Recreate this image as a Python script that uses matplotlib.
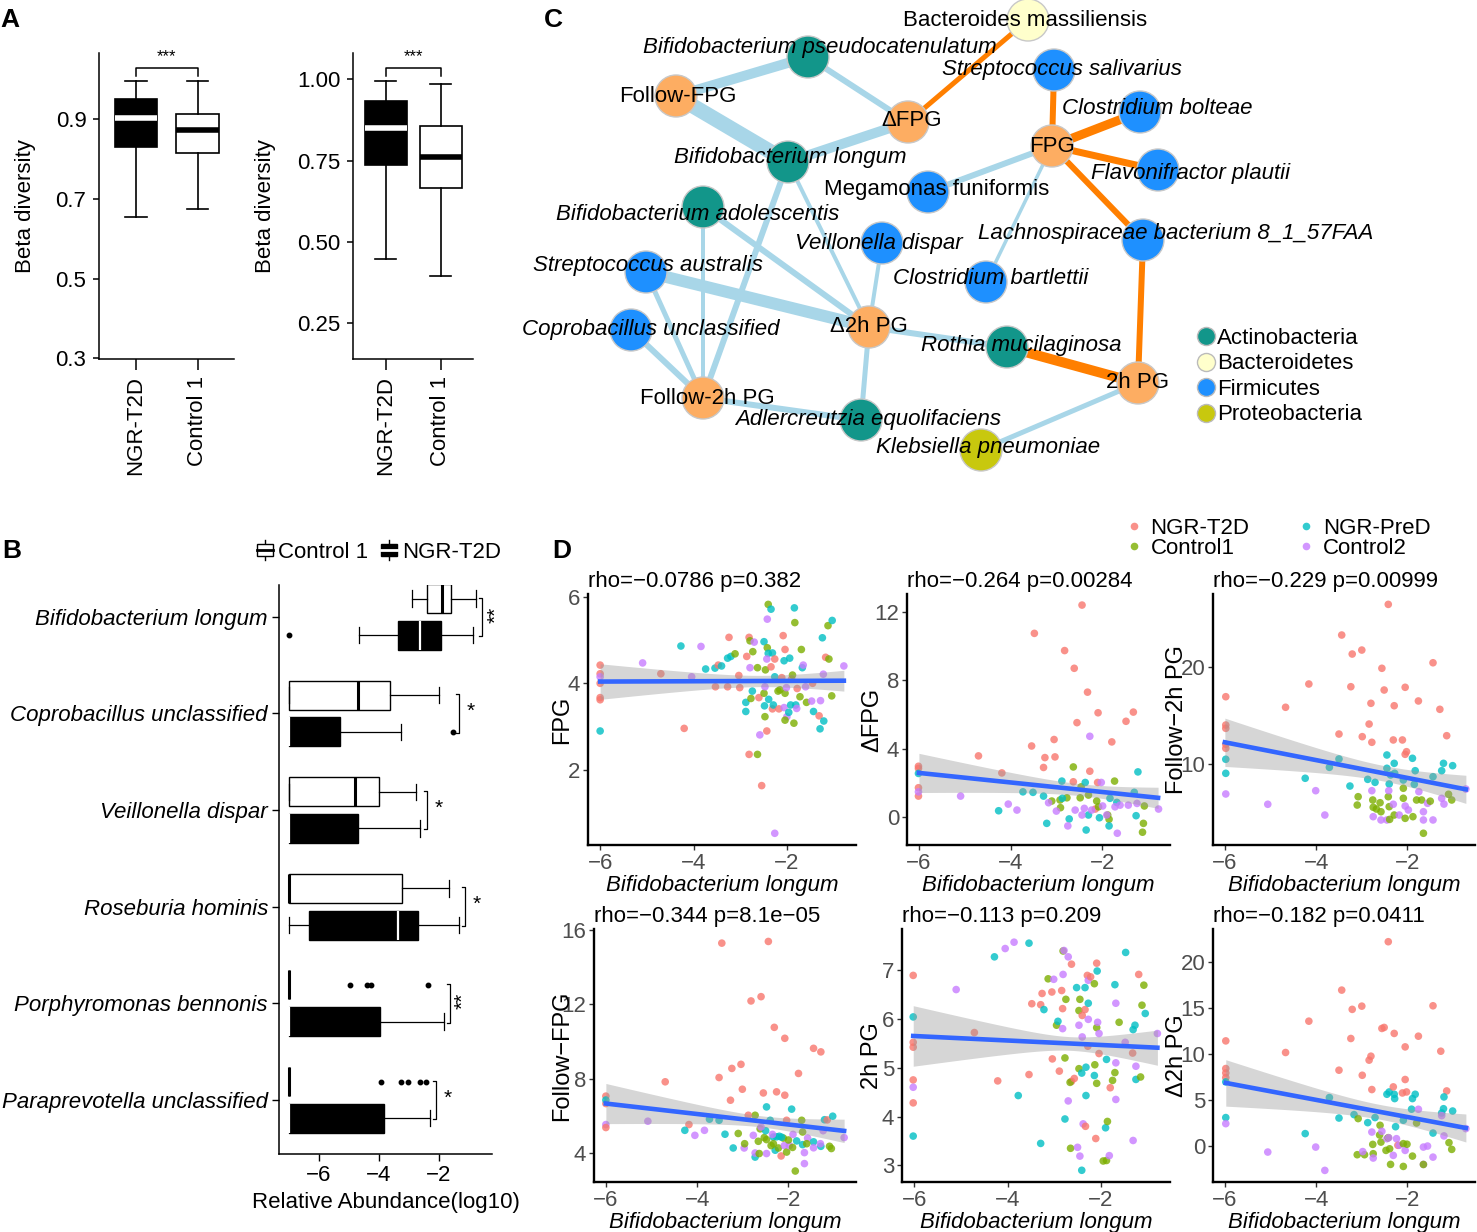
import numpy as np
import matplotlib
matplotlib.use("Agg")
import matplotlib.pyplot as plt
from matplotlib.patches import Circle, Rectangle
from matplotlib.lines import Line2D
from matplotlib.legend_handler import HandlerBase

plt.rcParams['font.family'] = ['Liberation Sans', 'DejaVu Sans']

W, H = 1477, 1232

# ---------------- panel A: beta diversity boxplots (lo, q1, med, q3, hi)
A_GROUPS = ['NGR-T2D', 'Control 1']
a1_t2d = [0.655, 0.831, 0.903, 0.951, 0.997]
a1_ctl = [0.675, 0.816, 0.874, 0.914, 0.997]
a2_t2d = [0.448, 0.737, 0.849, 0.933, 0.995]
a2_ctl = [0.394, 0.667, 0.762, 0.857, 0.985]

# ---------------- panel B: relative abundance boxplots (lo, q1, med, q3, hi)
B_TAXA = ['Bifidobacterium longum', 'Coprobacillus unclassified', 'Veillonella dispar',
          'Roseburia hominis', 'Porphyromonas bennonis', 'Paraprevotella unclassified']
B_CTRL = [(-2.90, -2.40, -1.87, -1.58, -0.74),
          (-7.0, -7.0, -4.71, -3.63, -2.0),
          (-7.0, -7.0, -4.81, -3.99, -2.76),
          (-7.0, -7.0, -7.0, -3.23, -1.65),
          (-7.0, -7.0, -7.0, -7.0, -7.0),
          (-7.0, -7.0, -7.0, -7.0, -7.0)]
B_CTRL_OUT = [[], [], [], [], [-4.97, -4.39, -4.25, -2.35], [-3.92, -3.25, -3.02, -2.61, -2.41]]
B_T2D = [(-4.65, -3.37, -2.63, -1.93, -0.85),
         (-7.0, -7.0, -7.0, -5.30, -3.25),
         (-7.0, -7.0, -7.0, -4.69, -2.61),
         (-7.0, -6.35, -3.35, -2.70, -1.32),
         (-7.0, -7.0, -7.0, -3.95, -1.81),
         (-7.0, -7.0, -7.0, -3.81, -2.29)]
B_T2D_OUT = [[-6.99], [-1.50], [], [], [], []]
B_SIG = ['**', '*', '*', '*', '**', '*']
B_BRACKET_X = [-0.53, -1.32, -2.40, -1.12, -1.61, -2.08]

# ---------------- panel C: network
# key, label, x, y, phylum, label x, label y, italic
NODES = [
    ('bmas', 'Bacteroides massiliensis', 1028, 20, 'Bacteroidetes', 1025, 20, False),
    ('bpse', 'Bifidobacterium pseudocatenulatum', 808, 57, 'Actinobacteria', 820, 48, True),
    ('ffpg', 'Follow-FPG', 676, 96, 'clin', 678, 96, False),
    ('dfpg', '\u0394FPG', 908, 122, 'clin', 912, 121, False),
    ('ssal', 'Streptococcus salivarius', 1054, 70, 'Firmicutes', 1062, 70, True),
    ('cbol', 'Clostridium bolteae', 1140, 112, 'Firmicutes', 1157, 108, True),
    ('fpg', 'FPG', 1052, 146, 'clin', 1052, 146, False),
    ('fpla', 'Flavonifractor plautii', 1158, 170, 'Firmicutes', 1191, 173, True),
    ('blon', 'Bifidobacterium longum', 788, 162, 'Actinobacteria', 790, 158, True),
    ('mfun', 'Megamonas funiformis', 928, 192, 'Firmicutes', 937, 190, False),
    ('bado', 'Bifidobacterium adolescentis', 703, 207, 'Actinobacteria', 698, 214, True),
    ('vdis', 'Veillonella dispar', 882, 243, 'Firmicutes', 879, 243, True),
    ('lach', 'Lachnospiraceae bacterium 8_1_57FAA', 1143, 240, 'Firmicutes', 1176, 233, True),
    ('saus', 'Streptococcus australis', 646, 272, 'Firmicutes', 648, 265, True),
    ('cbar', 'Clostridium bartlettii', 986, 282, 'Firmicutes', 991, 279, True),
    ('copr', 'Coprobacillus unclassified', 631, 330, 'Firmicutes', 651, 329, True),
    ('d2h', '\u03942h PG', 869, 327, 'clin', 869, 326, False),
    ('rmuc', 'Rothia mucilaginosa', 1007, 347, 'Actinobacteria', 1021, 345, True),
    ('pg2h', '2h PG', 1138, 383, 'clin', 1138, 382, False),
    ('f2h', 'Follow-2h PG', 703, 398, 'clin', 707, 398, False),
    ('aequ', 'Adlercreutzia equolifaciens', 861, 420, 'Actinobacteria', 868, 420, True),
    ('kpne', 'Klebsiella pneumoniae', 981, 450, 'Proteobacteria', 988, 448, True),
]
# node a, node b, weight (px), sign
EDGES = [
    ('ffpg', 'bpse', 10, -1), ('ffpg', 'blon', 15, -1), ('bpse', 'dfpg', 6, -1),
    ('blon', 'dfpg', 10, -1), ('fpg', 'mfun', 6, -1), ('fpg', 'cbar', 3.5, -1),
    ('blon', 'f2h', 6, -1), ('blon', 'd2h', 4, -1), ('bado', 'f2h', 4, -1),
    ('bado', 'd2h', 6, -1), ('vdis', 'd2h', 4, -1), ('saus', 'd2h', 12, -1),
    ('saus', 'f2h', 5, -1), ('copr', 'f2h', 6, -1), ('d2h', 'rmuc', 6, -1),
    ('d2h', 'aequ', 5, -1), ('f2h', 'aequ', 6, -1), ('pg2h', 'kpne', 5, -1),
    ('dfpg', 'bmas', 5, 1), ('fpg', 'ssal', 6, 1), ('fpg', 'cbol', 9, 1),
    ('fpg', 'fpla', 7, 1), ('fpg', 'lach', 6, 1), ('lach', 'pg2h', 6, 1),
    ('rmuc', 'pg2h', 10, 1),
]
PHYLA = ['Actinobacteria', 'Bacteroidetes', 'Firmicutes', 'Proteobacteria']
NODE_COL = {'Actinobacteria': '#12968A', 'Bacteroidetes': '#FFFFCC', 'Firmicutes': '#1E90FF',
            'Proteobacteria': '#C8C80E', 'clin': '#FDAD62'}

# ---------------- panel D: scatter points (group, B. longum, clinical value)
GROUPS = ['NGR-T2D', 'Control1', 'NGR-PreD', 'Control2']
GCOL = {'r': '#F8766D', 'g': '#7CAE00', 'c': '#00BFC4', 'p': '#C77CFF'}

fpg_pts = [
    ('r', -6.0, 4.42), ('r', -6.0, 4.22), ('r', -6.0, 4.0), ('p', -6.0, 4.15), ('r', -6.0, 3.67),
    ('r', -6.0, 3.62), ('c', -6.0, 2.9), ('p', -5.09, 4.47), ('r', -4.70, 4.22), ('c', -4.27, 4.86),
    ('r', -4.20, 2.96), ('p', -4.04, 4.15), ('p', -3.84, 4.85), ('c', -3.74, 4.33), ('c', -3.54, 4.35),
    ('r', -3.53, 3.92), ('r', -3.47, 4.42), ('c', -3.40, 4.40), ('r', -3.27, 3.92), ('c', -3.27, 4.58),
    ('c', -3.20, 4.62), ('r', -3.24, 5.06), ('g', -3.11, 4.68), ('r', -3.03, 4.18), ('r', -3.01, 3.90),
    ('c', -2.88, 3.56), ('c', -2.88, 3.35), ('r', -2.86, 4.62), ('r', -2.81, 5.06), ('r', -2.81, 2.36),
    ('g', -2.79, 4.98), ('p', -2.79, 4.36), ('g', -2.77, 3.65), ('c', -2.74, 3.82), ('g', -2.73, 4.73),
    ('p', -2.70, 4.95), ('g', -2.63, 4.36), ('g', -2.63, 2.36), ('r', -2.60, 3.67), ('p', -2.58, 2.81),
    ('r', -2.54, 1.64), ('g', -2.49, 3.77), ('c', -2.49, 4.96), ('p', -2.47, 3.92), ('g', -2.47, 3.23),
    ('g', -2.46, 4.31), ('g', -2.42, 4.82), ('p', -2.42, 5.48), ('g', -2.40, 5.82), ('r', -2.43, 2.90),
    ('c', -2.40, 4.69), ('p', -2.43, 4.56), ('c', -2.39, 3.63), ('c', -2.34, 5.71), ('c', -2.31, 4.70),
    ('r', -2.34, 4.38), ('c', -2.48, 3.48), ('r', -2.31, 3.41), ('c', -2.29, 3.50), ('r', -2.26, 4.56),
    ('p', -2.26, 0.54), ('c', -2.26, 4.15), ('r', -2.17, 3.41), ('g', -2.19, 3.82), ('g', -2.15, 3.85),
    ('r', -2.11, 4.13), ('r', -2.08, 5.10), ('p', -2.06, 3.44), ('g', -2.04, 3.77), ('c', -2.06, 4.52),
    ('r', -2.04, 4.78), ('p', -2.01, 3.90), ('p', -2.0, 3.23), ('g', -2.04, 3.15), ('c', -1.96, 3.33),
    ('c', -1.94, 4.58), ('c', -1.92, 3.50), ('r', -1.90, 4.10), ('g', -1.88, 4.19), ('g', -1.85, 3.08),
    ('c', -1.84, 5.74), ('g', -1.83, 5.40), ('c', -1.81, 3.50), ('p', -1.79, 3.42), ('r', -1.78, 3.88),
    ('g', -1.72, 3.69), ('g', -1.69, 4.78), ('c', -1.67, 4.36), ('p', -1.65, 4.42), ('p', -1.60, 3.92),
    ('g', -1.58, 3.56), ('p', -1.47, 3.59), ('r', -1.45, 4.0), ('c', -1.43, 3.35), ('p', -1.28, 3.60),
    ('r', -1.31, 3.25), ('c', -1.24, 5.05), ('p', -1.22, 4.21), ('c', -1.29, 2.95), ('c', -1.21, 3.13),
    ('r', -1.17, 4.60), ('g', -1.12, 5.33), ('g', -1.10, 4.56), ('c', -1.03, 5.45), ('g', -1.04, 3.71),
    ('p', -0.78, 4.40),
]
dfpg_pts = [
    ('r', -6.01, 2.96), ('r', -6.01, 2.83), ('c', -6.01, 2.54), ('r', -6.01, 1.70), ('r', -6.01, 1.21),
    ('p', -6.01, 1.46), ('r', -4.70, 3.57), ('p', -5.09, 1.21), ('r', -4.19, 2.57), ('c', -4.26, 0.35),
    ('p', -4.05, 0.74), ('p', -3.86, 0.39), ('r', -3.48, 10.76), ('r', -3.54, 4.15), ('r', -3.25, 3.47),
    ('r', -3.03, 3.51), ('r', -3.28, 2.89), ('r', -3.05, 4.53), ('r', -2.82, 9.75), ('r', -2.61, 8.71),
    ('r', -2.55, 5.52), ('r', -2.44, 12.42), ('r', -2.32, 7.31), ('r', -2.27, 2.67), ('r', -2.09, 6.10),
    ('r', -1.79, 4.39), ('r', -1.48, 5.60), ('r', -1.32, 6.14), ('r', -2.10, 2.01), ('r', -2.15, 0.45),
    ('r', -2.63, 2.05), ('p', -2.27, 4.72), ('g', -2.63, 2.92), ('g', -3.10, 0.92), ('g', -2.91, 0.53),
    ('g', -2.46, 1.75), ('g', -2.48, 1.11), ('g', -2.77, 1.11), ('g', -2.30, 1.27), ('g', -2.12, 0.92),
    ('g', -2.08, 0.58), ('g', -1.88, 0.10), ('g', -1.85, -0.15), ('g', -1.73, 2.09), ('g', -1.10, -0.39),
    ('g', -1.12, -0.91), ('g', -1.08, 0.63), ('g', -2.92, 0.98), ('c', -3.73, 1.46), ('c', -3.51, 1.43),
    ('c', -3.28, 1.21), ('c', -3.21, -0.39), ('c', -2.88, 2.09), ('c', -2.72, -0.13), ('c', -2.35, -0.78),
    ('c', -2.30, 0.10), ('c', -2.06, -0.06), ('c', -1.85, -0.54), ('c', -1.22, 2.63), ('c', -1.30, 1.43),
    ('c', -1.26, 0.06), ('c', -1.83, 1.08), ('c', -1.68, 0.84), ('c', -2.87, 1.08), ('c', -2.37, 2.01),
    ('p', -3.0, 0.33), ('p', -2.75, -0.54), ('p', -2.59, 0.39), ('p', -2.44, 0.10), ('p', -2.39, 0.49),
    ('p', -2.23, 0.39), ('p', -2.02, 2.01), ('p', -1.99, 0.63), ('p', -1.90, 0.10), ('p', -1.72, 0.58),
    ('p', -1.67, -0.97), ('p', -1.61, 0.68), ('p', -1.43, 0.68), ('p', -1.24, 0.78), ('p', -0.77, 0.45),
    ('p', -3.17, 0.82),
]
f2h_pts = [
    ('r', -5.98, 16.97), ('r', -5.98, 14.05), ('r', -5.98, 13.71), ('r', -5.98, 12.06), ('r', -5.98, 11.65),
    ('c', -5.98, 10.52), ('c', -5.98, 9.07), ('p', -5.98, 6.94), ('r', -4.67, 15.88), ('p', -5.06, 5.88),
    ('r', -4.16, 18.28), ('c', -4.24, 8.56), ('p', -4.01, 7.28), ('p', -3.81, 4.77), ('c', -3.71, 9.69),
    ('c', -3.50, 10.55), ('r', -3.50, 13.12), ('r', -3.44, 23.33), ('r', -3.24, 18.0), ('r', -3.21, 21.37),
    ('r', -3.0, 21.78), ('r', -2.99, 12.85), ('c', -3.26, 7.76), ('g', -3.08, 6.66), ('g', -3.10, 5.80),
    ('c', -2.87, 8.45), ('r', -2.84, 14.15), ('r', -2.80, 16.29), ('r', -2.78, 12.27), ('g', -2.76, 6.32),
    ('g', -2.75, 5.57), ('g', -2.68, 5.39), ('c', -2.71, 8.14), ('p', -2.78, 7.28), ('p', -2.75, 4.60),
    ('g', -2.60, 6.04), ('g', -2.58, 5.11), ('r', -2.56, 19.90), ('r', -2.51, 17.66), ('c', -2.45, 10.96),
    ('c', -2.45, 9.59), ('p', -2.58, 4.26), ('p', -2.45, 4.26), ('g', -2.42, 6.66), ('g', -2.40, 5.63),
    ('g', -2.39, 4.32), ('c', -2.40, 7.97), ('r', -2.42, 26.49), ('r', -2.29, 16.04), ('r', -2.31, 12.51),
    ('c', -2.29, 10.10), ('c', -2.28, 9.07), ('c', -2.37, 8.9), ('p', -2.41, 7.28), ('p', -2.31, 5.88),
    ('g', -2.29, 4.77), ('p', -2.18, 4.77), ('r', -2.11, 12.51), ('r', -2.05, 17.94), ('r', -2.05, 11.03),
    ('r', -2.02, 11.3), ('c', -2.09, 8.38), ('g', -2.09, 7.53), ('g', -2.05, 4.43), ('g', -2.09, 6.5),
    ('p', -2.05, 5.7), ('p', -1.98, 5.29), ('c', -1.89, 10.62), ('c', -1.83, 9.34), ('c', -1.85, 7.94),
    ('g', -1.88, 4.60), ('g', -1.80, 6.32), ('g', -1.69, 6.32), ('r', -1.76, 16.53), ('p', -1.75, 7.18),
    ('p', -1.65, 5.11), ('p', -1.65, 4.26), ('g', -1.65, 2.89), ('p', -1.56, 5.98), ('c', -1.44, 8.72),
    ('p', -1.44, 4.26), ('r', -1.44, 20.47), ('r', -1.29, 15.67), ('r', -1.14, 12.95), ('c', -1.25, 9.34),
    ('c', -1.21, 10.10), ('c', -1.01, 9.86), ('p', -1.25, 6.49), ('p', -1.2, 5.9), ('g', -1.10, 6.91),
    ('g', -1.03, 6.32), ('p', -0.72, 7.45), ('g', -1.5, 6.2),
]
ffpg_pts = [
    ('r', -6.0, 7.06), ('r', -6.0, 6.66), ('c', -6.0, 6.85), ('p', -6.0, 5.53), ('r', -6.0, 5.37),
    ('r', -4.70, 7.83), ('p', -5.08, 5.71), ('r', -4.18, 5.53), ('c', -4.27, 5.22), ('p', -4.05, 4.95),
    ('p', -3.84, 5.22), ('c', -3.73, 5.82), ('c', -3.52, 5.76), ('r', -3.52, 8.06), ('c', -3.39, 5.01),
    ('r', -3.24, 8.55), ('r', -3.46, 15.29), ('r', -3.27, 6.84), ('r', -3.04, 8.77), ('r', -3.01, 7.43),
    ('c', -3.21, 4.27), ('p', -2.97, 4.27), ('g', -3.10, 5.05), ('g', -2.96, 4.5), ('r', -2.82, 12.18),
    ('g', -2.73, 6.03), ('c', -2.73, 3.78), ('r', -2.88, 6.03), ('p', -2.77, 4.95), ('g', -2.66, 4.63),
    ('g', -2.62, 5.3), ('p', -2.73, 4.0), ('g', -2.64, 3.97), ('r', -2.60, 12.41), ('r', -2.55, 7.23),
    ('c', -2.48, 6.48), ('g', -2.53, 4.83), ('g', -2.48, 4.72), ('p', -2.48, 3.97), ('c', -2.40, 5.76),
    ('c', -2.33, 4.86), ('r', -2.44, 15.38), ('r', -2.31, 10.76), ('r', -2.26, 7.29), ('c', -2.29, 4.15),
    ('c', -2.26, 4.87), ('g', -2.22, 4.27), ('g', -2.33, 4.5), ('r', -2.08, 10.17), ('r', -2.08, 7.11),
    ('r', -2.16, 3.84), ('g', -2.11, 4.8), ('p', -2.09, 4.4), ('g', -2.04, 4.05), ('c', -1.93, 6.36),
    ('c', -1.82, 4.65), ('p', -1.98, 4.4), ('g', -1.91, 4.3), ('r', -2.04, 5.76), ('r', -1.78, 8.28),
    ('g', -1.85, 3.03), ('g', -1.71, 5.76), ('c', -1.69, 4.45), ('p', -1.65, 4.02), ('p', -1.65, 3.43),
    ('g', -1.69, 5.13), ('p', -1.58, 4.8), ('r', -1.45, 9.63), ('r', -1.29, 9.44), ('c', -1.45, 4.6),
    ('p', -1.45, 4.28), ('c', -1.29, 4.36), ('p', -1.24, 5.2), ('c', -1.21, 5.79), ('r', -1.15, 5.78),
    ('g', -1.1, 4.36), ('g', -1.06, 4.24), ('c', -1.03, 5.98), ('p', -0.78, 4.83), ('c', -2.2, 4.9),
    ('p', -2.35, 5.0), ('g', -2.0, 4.7), ('c', -2.5, 5.2), ('g', -1.6, 4.5), ('p', -1.3, 4.5),
    ('c', -2.15, 4.85), ('p', -2.6, 5.4), ('g', -2.38, 4.4), ('p', -1.9, 5.0),
]
pg2h_pts = [
    ('r', -6.02, 6.89), ('c', -6.02, 6.04), ('r', -6.02, 5.52), ('r', -6.02, 5.42), ('r', -6.02, 4.75),
    ('p', -6.02, 4.60), ('r', -6.02, 4.28), ('c', -6.02, 3.60), ('p', -5.10, 6.60), ('r', -4.71, 5.72),
    ('r', -4.21, 4.73), ('c', -4.28, 7.27), ('p', -4.05, 7.44), ('p', -3.86, 7.57), ('c', -3.77, 4.43),
    ('c', -3.54, 7.55), ('r', -3.54, 4.86), ('r', -3.48, 6.31), ('r', -3.29, 6.29), ('r', -3.26, 6.52),
    ('c', -3.22, 6.19), ('c', -3.29, 3.45), ('r', -3.05, 6.55), ('g', -3.13, 6.82), ('p', -3.01, 6.81),
    ('r', -3.04, 5.18), ('r', -2.89, 4.93), ('g', -2.95, 5.87), ('c', -2.92, 5.95), ('r', -2.84, 6.58),
    ('g', -2.81, 7.39), ('p', -2.79, 7.4), ('p', -2.70, 7.27), ('r', -2.63, 7.12), ('p', -2.81, 6.91),
    ('g', -2.75, 6.40), ('p', -2.82, 5.80), ('r', -2.82, 6.21), ('g', -2.77, 5.2), ('r', -2.63, 4.72),
    ('g', -2.66, 4.7), ('g', -2.65, 3.35), ('p', -2.70, 4.32), ('c', -2.77, 3.95), ('r', -2.57, 4.78),
    ('p', -2.50, 3.37), ('p', -2.45, 3.19), ('g', -2.47, 4.98), ('g', -2.47, 6.17), ('c', -2.52, 6.64),
    ('g', -2.45, 6.4), ('p', -2.47, 5.87), ('r', -2.40, 6.07), ('r', -2.34, 6.19), ('r', -2.29, 6.89),
    ('p', -2.40, 5.63), ('c', -2.41, 4.89), ('p', -2.38, 3.85), ('c', -2.32, 5.01), ('c', -2.34, 6.64),
    ('c', -2.32, 4.43), ('r', -2.33, 3.8), ('c', -2.41, 2.90), ('p', -2.27, 6.79), ('r', -2.22, 6.86),
    ('r', -2.28, 5.44), ('p', -2.27, 5.99), ('c', -2.27, 6.32), ('c', -2.14, 4.84), ('g', -2.14, 6.72),
    ('r', -2.09, 7.14), ('c', -2.08, 6.98), ('g', -2.13, 5.06), ('g', -2.09, 4.68), ('r', -2.11, 3.55),
    ('g', -2.09, 5.82), ('p', -2.07, 5.93), ('p', -2.04, 5.7), ('r', -2.04, 5.29), ('c', -1.88, 5.17),
    ('c', -1.90, 3.77), ('g', -1.86, 3.90), ('g', -1.95, 3.09), ('g', -1.88, 3.1), ('p', -1.82, 3.20),
    ('r', -1.80, 4.59), ('g', -1.75, 4.74), ('c', -1.70, 6.70), ('p', -1.68, 6.32), ('p', -1.68, 5.1),
    ('g', -1.70, 4.9), ('p', -1.68, 4.35), ('g', -1.61, 5.93), ('p', -1.48, 5.52), ('c', -1.47, 7.36),
    ('r', -1.32, 5.30), ('c', -1.31, 5.78), ('c', -1.27, 5.87), ('p', -1.25, 5.03), ('p', -1.31, 3.51),
    ('c', -1.25, 4.76), ('r', -1.19, 6.91), ('g', -1.12, 6.28), ('g', -1.15, 4.81), ('g', -1.08, 6.69),
    ('c', -1.05, 6.11), ('p', -0.79, 5.70),
]
d2h_pts = [
    ('r', -5.98, 11.41), ('r', -5.98, 8.41), ('r', -5.98, 7.93), ('r', -5.98, 7.43), ('c', -5.98, 6.96),
    ('c', -5.98, 3.09), ('p', -5.98, 2.43), ('r', -4.67, 10.15), ('p', -5.06, -0.65), ('r', -4.16, 13.55),
    ('c', -4.24, 1.35), ('p', -4.01, -0.11), ('p', -3.81, -2.64), ('c', -3.71, 5.26), ('c', -3.50, 3.04),
    ('r', -3.50, 8.23), ('r', -3.44, 16.92), ('r', -3.24, 11.67), ('r', -3.21, 14.83), ('r', -3.0, 15.18),
    ('r', -2.99, 7.68), ('c', -3.17, 3.41), ('g', -3.08, 2.98), ('g', -3.10, -0.94), ('c', -2.87, 2.54),
    ('r', -2.84, 9.32), ('r', -2.80, 9.75), ('r', -2.78, 6.13), ('g', -2.94, -0.94), ('p', -2.98, -0.6),
    ('g', -2.76, 0.18), ('g', -2.75, -0.83), ('p', -2.75, -1.3), ('c', -2.71, 3.09), ('p', -2.78, 1.52),
    ('g', -2.60, 2.25), ('g', -2.61, 1.2), ('g', -2.58, 0.43), ('p', -2.56, 1.6), ('p', -2.45, 0.80),
    ('c', -2.45, 5.62), ('r', -2.56, 12.76), ('r', -2.51, 12.87), ('c', -2.40, 5.87), ('g', -2.47, -0.47),
    ('g', -2.42, 0.91), ('g', -2.39, -0.3), ('c', -2.29, 5.62), ('c', -2.28, 5.15), ('r', -2.29, 12.22),
    ('r', -2.31, 6.42), ('r', -2.42, 22.17), ('p', -2.41, 0.9), ('p', -2.31, -1.01), ('g', -2.37, -1.99),
    ('p', -2.24, 0.8), ('r', -2.21, 0.08), ('p', -2.18, 0.08), ('c', -2.26, 2.1), ('g', -2.09, 0.26),
    ('g', -2.09, -2.21), ('p', -2.05, -0.47), ('r', -2.11, 5.76), ('r', -2.05, 7.22), ('r', -2.05, 10.76),
    ('r', -2.02, 5.87), ('c', -2.09, 2.8), ('g', -2.01, 0.2), ('g', -1.89, -1.09), ('c', -1.89, 5.15),
    ('c', -1.83, 5.62), ('c', -1.91, 4.0), ('r', -1.76, 11.92), ('p', -1.76, 3.99), ('g', -1.80, 2.5),
    ('p', -1.65, -0.11), ('p', -1.65, -1.99), ('g', -1.65, -2.0), ('p', -1.56, 0.0), ('p', -1.44, -1.2),
    ('c', -1.44, 1.41), ('r', -1.44, 15.22), ('r', -1.27, 10.29), ('r', -1.14, 5.98), ('c', -1.25, 3.59),
    ('c', -1.21, 4.05), ('c', -1.20, 5.33), ('c', -1.01, 3.80), ('p', -1.25, 3.3), ('p', -1.2, 1.1),
    ('g', -1.09, 0.37), ('g', -1.03, -0.36), ('p', -0.72, 1.89),
]

# fitted line + 95% band: x left, x right, y left, y right, half-width left, min, right
FITS = {
    'fpg': (-6.0, -0.78, 4.04, 4.06, 0.41, 0.13, 0.24),
    'dfpg': (-6.0, -0.78, 2.57, 1.11, 1.15, 0.35, 0.62),
    'f2h': (-6.0, -0.72, 12.27, 7.42, 2.49, 0.80, 1.45),
    'ffpg': (-6.0, -0.78, 6.66, 5.19, 1.08, 0.30, 0.63),
    'pg2h': (-6.02, -0.79, 5.65, 5.41, 0.62, 0.14, 0.36),
    'd2h': (-5.98, -0.72, 6.85, 1.96, 2.52, 0.80, 1.52),
}
STATS = {
    'fpg': 'rho=\u22120.0786 p=0.382', 'dfpg': 'rho=\u22120.264 p=0.00284',
    'f2h': 'rho=\u22120.229 p=0.00999', 'ffpg': 'rho=\u22120.344 p=8.1e\u221205',
    'pg2h': 'rho=\u22120.113 p=0.209', 'd2h': 'rho=\u22120.182 p=0.0411',
}

fig = plt.figure(figsize=(W / 100, H / 100), dpi=100)


def px_axes(l, t, r, b):
    return fig.add_axes([l / W, 1 - b / H, (r - l) / W, (b - t) / H])


def classic(ax, lw=1.1):
    for s in ('top', 'right'):
        ax.spines[s].set_visible(False)
    for s in ('left', 'bottom'):
        ax.spines[s].set_linewidth(lw)


def stat_dict(v, fliers=()):
    return dict(whislo=v[0], q1=v[1], med=v[2], q3=v[3], whishi=v[4], fliers=list(fliers))


# ================= A
def panel_a(ax, t2d, ctl, ylim, yticks, ytl, width, bracket):
    classic(ax)
    for pos, v, fc, mc in [(1, t2d, 'black', 'white'), (2, ctl, 'white', 'black')]:
        ax.bxp([stat_dict(v)], positions=[pos], widths=[width], capwidths=[width / 2],
               showfliers=False, patch_artist=True, manage_ticks=False,
               boxprops=dict(facecolor=fc, edgecolor='black', linewidth=1.2),
               medianprops=dict(color=mc, linewidth=4, solid_capstyle='butt'),
               whiskerprops=dict(color='black', linewidth=1.2),
               capprops=dict(color='black', linewidth=1.2))
    lo, hi = bracket
    ax.plot([1, 1, 2, 2], [lo, hi, hi, lo], color='black', lw=1.1)
    ax.text(1.5, hi + 0.012 * (ylim[1] - ylim[0]), '***', ha='center', va='bottom', fontsize=12)
    ax.set_xlim(0.4, 2.59)
    ax.set_ylim(*ylim)
    ax.set_yticks(yticks)
    ax.set_yticklabels(ytl, fontsize=16)
    ax.set_xticks([1, 2])
    ax.set_xticklabels(A_GROUPS, rotation=90, fontsize=16)
    ax.tick_params(axis='y', length=4, width=1.1, pad=5)
    ax.tick_params(axis='x', length=8, width=1.1, pad=4)
    ax.set_ylabel('Beta diversity', fontsize=16)


ax_a1 = px_axes(99, 53, 234, 359)
panel_a(ax_a1, a1_t2d, a1_ctl, (0.298, 1.067), [0.3, 0.5, 0.7, 0.9], ['0.3', '0.5', '0.7', '0.9'],
        0.69, (1.009, 1.030))
ax_a1.yaxis.set_label_coords((36 - 99) / 135, 0.5)
ax_a2 = px_axes(353, 53, 473, 359)
panel_a(ax_a2, a2_t2d, a2_ctl, (0.14, 1.081), [0.25, 0.5, 0.75, 1.0], ['0.25', '0.50', '0.75', '1.00'],
        0.77, (1.010, 1.036))
ax_a2.yaxis.set_label_coords((276 - 353) / 120, 0.5)

# ================= B
ax_b = px_axes(279, 585, 492, 1154)
classic(ax_b)
ypos = np.arange(len(B_TAXA), 0, -1)
for i, y in enumerate(ypos):
    for v, out, off, fc, mc, mlw in [(B_CTRL[i], B_CTRL_OUT[i], 0.19, 'white', 'black', 2.2),
                                      (B_T2D[i], B_T2D_OUT[i], -0.19, 'black', 'white', 1.6)]:
        ax_b.bxp([stat_dict(v, out)], positions=[y + off], widths=[0.3], capwidths=[0.17],
                 orientation='horizontal', patch_artist=True, manage_ticks=False,
                 boxprops=dict(facecolor=fc, edgecolor='black', linewidth=1.0),
                 medianprops=dict(color=mc, linewidth=mlw, solid_capstyle='butt'),
                 whiskerprops=dict(color='black', linewidth=0.9),
                 capprops=dict(color='black', linewidth=0.9),
                 flierprops=dict(marker='o', markersize=3.2, markerfacecolor='black',
                                 markeredgecolor='black'))
    bx = B_BRACKET_X[i]
    ax_b.plot([bx - 0.1, bx, bx, bx - 0.1], [y + 0.2, y + 0.2, y - 0.2, y - 0.2], color='black', lw=0.9)
    if B_SIG[i] == '**':
        ax_b.text(bx + 0.44, y + 0.02, '**', rotation=90, ha='center', va='center', fontsize=15)
    else:
        ax_b.text(bx + 0.40, y + 0.02, '*', ha='center', va='center', fontsize=15)
ax_b.set_ylim(0.44, 6.33)
ax_b.set_xlim(-7.34, -0.21)
ax_b.set_yticks(ypos)
ax_b.set_yticklabels(B_TAXA, fontsize=16, fontstyle='italic')
ax_b.set_xticks([-6, -4, -2])
ax_b.tick_params(axis='both', length=5, width=1.0, labelsize=16, pad=3)
ax_b.set_xlabel('Relative Abundance(log10)', fontsize=16, labelpad=4)


class BoxGlyph(HandlerBase):
    def __init__(self, fc, mc):
        super().__init__()
        self.fc, self.mc = fc, mc

    def create_artists(self, legend, orig_handle, xdescent, ydescent, width, height, fontsize, trans):
        x0, y0 = -xdescent, -ydescent
        cx, w = x0 + width / 2, width * 0.85
        wl = Line2D([cx, cx], [y0 - 0.15 * height, y0 + 1.15 * height], color='black', lw=1, transform=trans)
        r = Rectangle((cx - w / 2, y0 + 0.12 * height), w, 0.76 * height, facecolor=self.fc,
                      edgecolor='black', lw=1, transform=trans)
        ml = Line2D([cx - w / 2, cx + w / 2], [y0 + height / 2] * 2, color=self.mc, lw=2, transform=trans)
        return [wl, r, ml]


hb1, hb2 = Rectangle((0, 0), 1, 1), Rectangle((0, 0), 1, 1)
fig.legend([hb1, hb2], ['Control 1', 'NGR-T2D'], loc='center left',
           bbox_to_anchor=(256 / W, 1 - 552 / H), ncol=2, frameon=False, fontsize=16,
           handlelength=0.85, handletextpad=0.15, columnspacing=0.5, borderpad=0, borderaxespad=0,
           handler_map={hb1: BoxGlyph('white', 'black'), hb2: BoxGlyph('black', 'white')})

# ================= C
ax_c = px_axes(540, 0, 1477, 480)
ax_c.set_xlim(540, 1477)
ax_c.set_ylim(480, 0)
ax_c.axis('off')
pos = {n[0]: (n[2], n[3]) for n in NODES}
for a, b, wgt, sign in EDGES:
    (x1, y1), (x2, y2) = pos[a], pos[b]
    ax_c.plot([x1, x2], [y1, y2], color='#A8D6E8' if sign < 0 else '#FF7F00',
              lw=wgt * 0.72, solid_capstyle='butt', zorder=1)
for key, lab, x, y, grp, tx, ty, ital in NODES:
    ax_c.add_patch(Circle((x, y), 21, facecolor=NODE_COL[grp], edgecolor='#C8C8C8', lw=1.0, zorder=2))
for key, lab, x, y, grp, tx, ty, ital in NODES:
    ax_c.text(tx, ty, lab, ha='center', va='center', fontsize=16,
              fontstyle='italic' if ital else 'normal', zorder=3)
leg_h = [Line2D([], [], marker='o', ls='', markersize=13, markerfacecolor=NODE_COL[p],
                markeredgecolor='#BBBBBB') for p in PHYLA]
ax_c.legend(leg_h, PHYLA, loc='upper left', bbox_to_anchor=((1199 - 540) / 937, 1 - 328 / 480),
            frameon=False, fontsize=16, handlelength=0.6, handletextpad=0.2, labelspacing=0.2,
            borderpad=0, borderaxespad=0)

# ================= D
XLIM = (-6.26, -0.52)


def panel_d(box, key, pts, ylim, yticks, ylabel, lab_px):
    l, t, r, b = box
    ax = px_axes(l, t, r, b)
    for s in ('top', 'right'):
        ax.spines[s].set_visible(False)
    for s in ('left', 'bottom'):
        ax.spines[s].set_linewidth(1.7)
    xs = np.array([p[1] for p in pts])
    ys = np.array([p[2] for p in pts])
    cs = [GCOL[p[0]] for p in pts]
    ax.scatter(xs, ys, s=30, c=cs, alpha=0.8, linewidths=0, zorder=2)
    xl, xr, yl, yr, hwl, hwm, hwr = FITS[key]
    gx = np.linspace(xl, xr, 120)
    gy = yl + (yr - yl) * (gx - xl) / (xr - xl)
    a_, b_ = np.sqrt(hwl ** 2 - hwm ** 2), np.sqrt(hwr ** 2 - hwm ** 2)
    xc = (a_ * xr + b_ * xl) / (a_ + b_)
    k = a_ / (xc - xl)
    hw = np.sqrt(hwm ** 2 + (k * (gx - xc)) ** 2)
    ax.fill_between(gx, gy - hw, gy + hw, color='#999999', alpha=0.4, lw=0, zorder=3)
    ax.plot(gx, gy, color='#3366FF', lw=3.3, zorder=4)
    ax.set_xlim(*XLIM)
    ax.set_ylim(*ylim)
    ax.set_xticks([-6, -4, -2])
    ax.set_yticks(yticks)
    ax.tick_params(length=3.5, width=1.0, color='#333333', labelsize=16, labelcolor='#4D4D4D', pad=2)
    ax.set_title(STATS[key], loc='left', fontsize=16, pad=5)
    ax.set_xlabel('Bifidobacterium longum', fontsize=16, fontstyle='italic', labelpad=1)
    ax.set_ylabel(ylabel, fontsize=17)
    ax.yaxis.set_label_coords((lab_px - l) / (r - l), 0.5)
    return ax


panel_d((588, 594, 856, 845), 'fpg', fpg_pts, (0.27, 6.06), [2, 4, 6], 'FPG', 573)
panel_d((907, 594, 1170, 845), 'dfpg', dfpg_pts, (-1.66, 13.07), [0, 4, 8, 12], '\u0394FPG', 883)
panel_d((1213, 594, 1475, 845), 'f2h', f2h_pts, (1.68, 27.56), [10, 20], 'Follow\u22122h PG', 1188)
panel_d((594, 929, 856, 1182), 'ffpg', ffpg_pts, (2.44, 16.05), [4, 8, 12, 16], 'Follow\u2212FPG', 573)
panel_d((902, 929, 1170, 1182), 'pg2h', pg2h_pts, (2.66, 7.84), [3, 4, 5, 6, 7], '2h PG', 883)
panel_d((1213, 929, 1475, 1182), 'd2h', d2h_pts, (-3.9, 23.55), [0, 5, 10, 15, 20], '\u03942h PG', 1188)

hd = [Line2D([], [], marker='o', ls='', markersize=5.5, markerfacecolor=GCOL[g], markeredgewidth=0,
             alpha=0.8) for g in ('r', 'g', 'c', 'p')]
fig.legend(hd, GROUPS, ncol=2, loc='upper left', bbox_to_anchor=(1126 / W, 1 - 518 / H),
           frameon=False, fontsize=16, handlelength=0.7, handletextpad=0.4, columnspacing=2.2,
           labelspacing=-0.05, borderpad=0, borderaxespad=0)

# panel letters
for lab, x, y in [('A', 10, 20), ('B', 12, 551), ('C', 553, 20), ('D', 562, 551)]:
    fig.text(x / W, 1 - y / H, lab, ha='center', va='center', fontsize=19, fontweight='bold')

fig.savefig('out.png', dpi=100)
